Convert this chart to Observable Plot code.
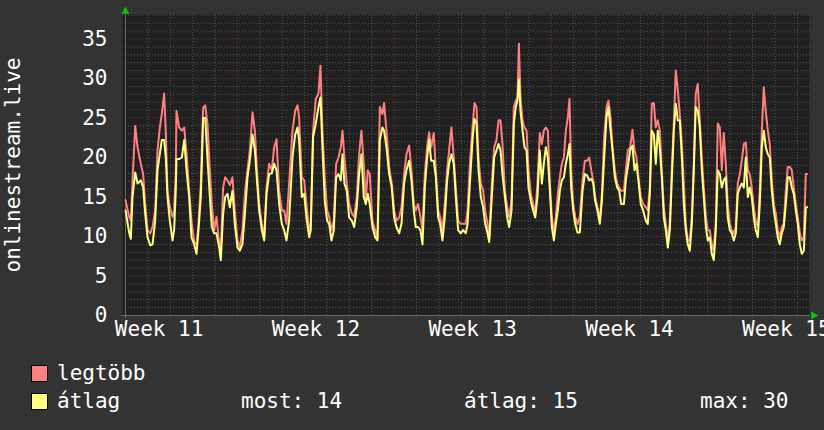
<!DOCTYPE html>
<html><head><meta charset="utf-8">
<script src="https://cdn.jsdelivr.net/npm/d3@7"></script>
<script src="https://cdn.jsdelivr.net/npm/@observablehq/plot@0.6"></script>
<style>
html,body{margin:0;padding:0;background:#333333;width:824px;height:430px;overflow:hidden;}
#wrap{position:relative;width:824px;height:430px;font-family:"DejaVu Sans Mono",monospace;color:#fff;}
#chart{position:absolute;left:0;top:0;}
.sw{position:absolute;width:15px;height:15px;border:1px solid #000;}
.lt{position:absolute;font-size:21px;line-height:24px;white-space:pre;color:#fff;}
</style></head><body><div id="wrap"><div id="chart"></div></div>
<script>
// hours since 2024-03-13 00:00 UTC
const hours = [
0,3.9,5.7,7.5,10.4,12.9,16.4,18.9,21.1,23.6,
26.4,29.0,31.8,34.3,36.8,38.9,41.4,43.2,45.0,47.5,
50.4,52.1,53.9,54.6,57.5,60.4,62.9,65.4,68.2,70.7,
73.6,76.1,78.2,80.7,83.2,85.4,87.8,90.4,92.5,95.0,
97.5,100.4,102.1,104.6,106.8,109.3,111.8,114.6,117.1,120.0,
122.5,125.3,128.2,130.7,133.2,136.1,138.6,141.1,143.2,146.1,
148.6,151.1,153.9,156.8,159.3,161.8,164.6,167.5,170.0,172.5,
175.3,178.9,181.8,184.3,
186.0,188.9,191.4,193.9,196.8,198.5,201.0,203.9,206.8,208.9,
211.0,213.5,216.0,218.2,220.7,223.2,225.7,228.2,230.7,232.5,
234.6,237.1,239.6,242.5,245.0,247.8,250.3,252.8,255.3,257.5,
259.6,261.7,264.6,267.5,270.0,272.5,275.3,277.1,279.6,282.5,
285.3,287.8,290.3,293.2,295.7,298.5,301.0,303.9,306.4,308.9,
311.0,313.5,316.0,318.2,320.7,323.2,325.3,327.5,330.3,332.5,
335.0,337.1,339.6,342.1,344.6,346.7,349.2,351.7,353.9,356.4,
359.2,361.7,364.6,
366.5,369.0,371.8,373.9,376.1,378.2,380.7,383.2,385.4,387.9,
389.7,392.5,395.0,397.5,399.7,401.8,403.9,406.5,409.0,411.1,
413.6,416.1,418.2,420.0,421.5,423.2,425.4,427.5,429.7,431.8,
434.3,436.8,439.0,441.4,443.9,446.1,448.2,450.4,452.5,454.7,
456.8,459.0,461.1,463.2,465.4,467.5,469.7,471.8,474.0,475.7,
477.5,479.7,481.8,484.3,486.8,489.7,492.2,494.7,496.8,499.0,
501.1,503.2,505.7,508.2,510.4,512.9,515.4,517.5,519.7,521.8,
524.3,526.8,529.0,531.1,534.0,536.1,538.2,540.7,543.2,545.4,
547.5,
549.6,552.1,554.6,557.5,559.6,561.8,563.9,566.1,568.2,570.3,
572.5,574.6,576.8,578.9,581.1,583.2,585.3,587.5,589.6,591.8,
593.9,596.1,598.2,600.3,602.5,604.6,606.8,608.9,611.0,613.2,
615.3,617.5,619.6,621.8,623.9,626.0,628.2,630.3,632.5,634.6,
636.8,638.9,641.0,643.2,645.3,647.5,649.6,651.8,653.9,656.0,
658.2,660.3,662.5,664.6,666.8,668.9,671.0,673.2,675.3,677.5,
679.6,681.8,683.9,686.0,688.2,690.3,692.5,694.6,696.8,698.9,
701.0,703.2,705.3,707.5,709.6,711.8,713.9,716.0,718.2,720.3,
722.5,724.6,726.8,728.9,730.3
];
const legtobb = [
14.6,12.5,12.0,17.0,24.0,21.3,19.2,17.9,14.1,10.8,
10.4,11.2,13.3,20.9,23.8,25.5,28.1,23.1,15.8,13.7,
12.5,13.3,18.0,25.9,23.8,23.4,23.8,20.5,15.8,12.0,
9.3,9.0,11.6,16.7,26.3,26.6,24.3,18.4,14.1,10.8,
12.5,9.0,8.2,16.2,17.5,17.1,16.5,17.5,13.3,9.5,
8.6,10.8,15.8,18.4,20.9,25.7,23.4,17.9,14.1,11.6,
9.9,16.2,19.2,18.4,21.3,22.3,15.8,13.3,13.3,11.6,
16.7,23.4,25.9,26.6,
25.1,17.5,17.1,14.1,10.8,11.6,23.4,27.4,28.1,31.6,
23.4,17.5,13.3,12.5,10.8,12.0,19.2,20.0,21.3,23.4,
20.0,16.7,14.1,12.9,12.5,15.0,20.4,23.4,19.2,14.5,
18.4,17.9,12.0,10.8,9.9,26.4,25.5,26.9,23.4,18.8,
16.7,13.3,12.0,12.4,13.7,17.9,20.4,21.5,18.4,14.1,
13.3,14.1,12.5,10.8,17.9,21.3,23.2,21.3,23.1,18.4,
13.3,12.5,10.8,14.1,18.4,20.9,23.8,20.0,16.2,12.0,
11.6,11.6,11.6,
13.3,19.2,23.8,26.9,26.4,20.0,16.7,15.8,13.3,11.6,
9.9,16.7,21.3,22.2,24.7,24.7,21.7,15.8,13.7,12.5,
14.5,26.4,27.2,27.6,34.4,27.6,24.7,23.8,23.4,18.4,
15.4,14.1,12.9,16.7,23.1,21.7,23.4,23.8,23.4,16.7,
12.5,10.4,12.5,15.4,17.5,19.2,20.0,23.4,25.1,27.4,
18.4,14.1,12.5,11.6,12.5,17.1,19.6,19.6,20.0,18.4,
17.1,15.0,13.7,12.0,15.4,22.6,26.4,27.2,25.1,21.3,
18.4,16.7,16.2,15.8,15.8,18.4,20.9,21.3,23.5,20.9,
20.0,
17.5,15.0,14.1,13.7,13.3,16.2,26.8,26.9,23.8,24.7,
23.4,18.4,13.7,11.6,9.5,11.6,18.4,24.3,31.0,28.5,
25.5,21.7,16.7,11.6,9.5,9.5,12.5,19.2,28.1,29.3,
24.7,20.0,16.2,12.5,10.8,10.8,9.0,8.2,12.0,24.3,
23.8,18.4,23.1,19.2,14.1,11.6,10.8,10.4,11.2,16.7,
17.9,19.6,21.7,21.9,18.4,17.9,16.2,13.7,12.0,11.2,
15.8,23.4,28.9,25.9,23.4,21.7,17.1,14.1,12.9,10.8,
9.9,11.2,11.6,15.8,18.8,18.8,18.4,16.2,14.1,12.5,
10.4,9.5,9.9,17.9,17.9
];
const atlag = [
13.3,10.5,9.7,15.0,18.1,16.7,17.1,16.2,12.9,9.9,
8.9,9.0,12.0,18.4,20.5,22.2,22.2,20.0,15.0,12.0,
9.5,10.8,16.0,19.8,19.8,20.0,22.2,18.4,15.0,9.9,
9.0,7.8,10.8,15.0,25.0,25.0,20.0,15.0,11.2,10.4,
10.4,8.6,7.0,12.9,15.0,15.4,13.7,15.8,11.6,8.6,
8.2,9.0,13.3,17.5,19.6,22.9,20.9,16.7,13.3,10.8,
9.5,15.4,17.9,18.0,19.2,18.4,14.1,11.6,10.8,9.5,
12.0,20.0,22.9,23.8,
22.2,15.0,15.4,12.4,9.9,10.8,22.6,24.3,26.4,27.6,
21.3,14.5,12.0,11.6,9.5,10.8,17.5,17.9,17.1,20.4,
16.7,15.8,12.4,12.0,11.2,13.7,17.9,20.4,15.0,14.1,
15.4,14.1,11.2,9.9,9.5,22.2,23.8,23.4,21.3,17.9,
16.2,12.4,11.2,10.4,11.6,16.7,18.4,19.6,17.1,13.3,
11.2,11.2,10.8,9.0,16.2,20.0,22.2,19.6,19.6,17.5,
12.4,11.6,9.5,12.4,17.1,19.2,20.4,19.2,15.0,10.8,
10.4,10.8,10.4,
11.6,16.7,22.2,24.9,24.3,18.4,15.0,13.7,11.6,10.4,
9.3,15.0,20.0,20.9,21.7,20.9,17.9,15.0,12.4,11.2,
13.3,24.3,26.4,27.2,29.9,25.9,23.4,21.3,20.9,16.2,
14.5,13.3,12.4,15.0,20.9,16.7,19.2,21.3,20.0,15.8,
11.2,9.5,11.6,13.3,15.8,17.1,17.5,19.2,20.4,21.7,
16.2,13.3,11.6,10.5,10.5,15.8,17.9,17.7,17.1,17.3,
16.8,14.5,13.3,11.6,14.5,20.0,25.1,26.4,23.4,20.9,
17.5,16.2,15.8,14.1,14.1,17.1,18.8,20.9,21.5,18.4,
19.2,
17.0,14.1,13.3,12.0,11.6,15.4,23.4,22.9,19.2,23.4,
21.3,17.5,12.4,10.8,8.6,10.8,17.1,23.4,26.8,24.7,
24.7,20.0,14.1,10.8,9.0,8.2,11.6,18.4,26.4,25.9,
23.8,18.4,15.0,11.2,9.5,9.9,7.8,7.0,10.8,18.4,
17.9,16.2,17.1,17.5,12.4,10.8,10.4,9.5,10.4,15.4,
16.2,16.7,16.2,20.0,15.0,16.2,15.0,12.4,10.8,9.9,
14.1,21.3,23.4,21.3,20.4,20.0,15.8,13.3,11.6,9.9,
9.0,10.4,11.2,14.1,17.5,17.5,16.2,15.4,13.3,11.6,
9.0,7.8,8.2,13.7,13.7
];
const yTicks = [0,5,10,15,20,25,30,35];
const weekLabels = ["Week 11","Week 12","Week 13","Week 14","Week 15"];
const weekMid = ["2024-03-14T12:00Z","2024-03-21T12:00Z","2024-03-28T12:00Z","2024-04-04T12:00Z","2024-04-11T12:00Z"].map(s => new Date(s));
const seriesNames = ["legtöbb","átlag"];
const seriesColors = ["#ff8080","#ffff80"];
const statLabels = ["most: 14","átlag: 15","max: 30"];
const yTitle = "onlinestream.live";

const start = new Date("2024-03-13T00:00Z");
const end = new Date(start.getTime() + 731.8 * 3600e3);
const rows = hours.map((h, i) => ({t: new Date(start.getTime() + h * 3600e3), max: legtobb[i], avg: atlag[i]}));
const days = d3.utcDay.range(start, end);
const mondays = days.filter(d => d.getUTCDay() === 1);
const minorDays = days.filter(d => d.getUTCDay() !== 1);
const yMinor = d3.range(1, 39).filter(v => v % 5 !== 0);
const yMajor = yTicks.filter(v => v > 0);

const gridGray = "#555555", gridRed = "#7a3535", dash = "1,2";

const chart = Plot.plot({
  width: 824, height: 345,
  marginLeft: 125, marginRight: 16, marginTop: 14, marginBottom: 30,
  style: {background: "transparent", color: "#ffffff", fontFamily: "DejaVu Sans Mono", fontSize: "21px", overflow: "visible"},
  x: {type: "utc", domain: [start, end], label: null},
  y: {domain: [0, 38.1], label: null},
  marks: [
    Plot.frame({fill: "#202020", stroke: "none", insetLeft: -3, insetRight: -1}),
    Plot.ruleY(yMinor, {stroke: gridGray, strokeDasharray: dash, insetLeft: -3, insetRight: -2}),
    Plot.ruleX(minorDays, {stroke: gridGray, strokeDasharray: dash, insetBottom: -3}),
    Plot.ruleY(yMajor, {stroke: gridRed, strokeDasharray: dash, insetLeft: -3, insetRight: -2}),
    Plot.ruleX(mondays, {stroke: gridRed, strokeDasharray: dash, insetBottom: -3}),
    Plot.ruleY([0], {stroke: "#6a6a6a", insetLeft: -4, insetRight: -2}),
    Plot.ruleX([start], {stroke: "#6a6a6a", insetTop: -3, insetBottom: -3}),
    Plot.line(rows, {x: "t", y: "max", stroke: seriesColors[0], strokeWidth: 2}),
    Plot.line(rows, {x: "t", y: "avg", stroke: seriesColors[1], strokeWidth: 2}),
    Plot.axisY({ticks: yTicks, tickSize: 0, tickPadding: 18, fontSize: 21, fill: "#ffffff", label: null}),
    Plot.axisX({ticks: weekMid, tickSize: 0, tickPadding: 6, fontSize: 21, fill: "#ffffff", label: null,
      tickFormat: d => weekLabels[weekMid.findIndex(m => +m === +d)]}),
    Plot.text([yTitle], {text: d => d, frameAnchor: "left", rotate: -90, dx: -112, fontSize: 21, fill: "#ffffff", textAnchor: "middle"}),
    Plot.dot([0], {frameAnchor: "top-left", symbol: "triangle", r: 3, fill: "#00cc00", stroke: "none", dy: -3}),
    Plot.dot([0], {frameAnchor: "bottom-right", symbol: "triangle", rotate: 90, r: 3, fill: "#00cc00", stroke: "none", dx: 5})
  ]
});
document.getElementById("chart").appendChild(chart);

const wrap = document.getElementById("wrap");
function add(cls, left, top, text, bg) {
  const el = document.createElement("div");
  el.className = cls;
  el.style.left = left + "px";
  el.style.top = top + "px";
  if (text) el.textContent = text;
  if (bg) el.style.background = bg;
  wrap.appendChild(el);
}
add("sw", 31, 365, null, seriesColors[0]);
add("lt", 57, 361, seriesNames[0]);
add("sw", 31, 393, null, seriesColors[1]);
add("lt", 57, 389, seriesNames[1]);
add("lt", 241, 389, statLabels[0]);
add("lt", 464, 389, statLabels[1]);
add("lt", 700, 389, statLabels[2]);
</script></body></html>
